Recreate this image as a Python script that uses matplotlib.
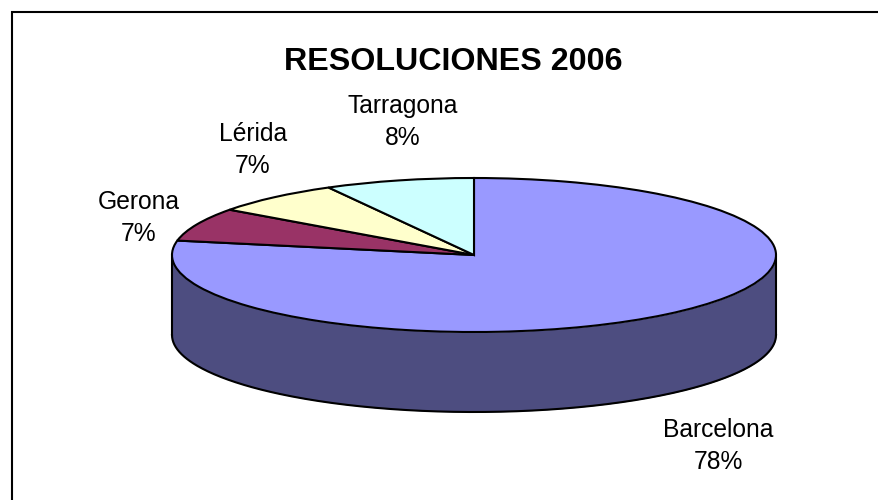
import matplotlib
matplotlib.use('Agg')
import matplotlib.pyplot as plt
import numpy as np

labels = ['Barcelona', 'Gerona', 'Lérida', 'Tarragona']
values = [78, 7, 7, 8]
colors = ['#9999ff', '#993366', '#ffffcc', '#ccffff']
side_color = '#4d4d80'

W, H = 879, 500
cx, cy = 474, 255
rx, ry = 302, 77
depth = 80 / ry

plt.rcParams['font.family'] = ['Liberation Sans', 'DejaVu Sans']

fig = plt.figure(figsize=(W / 100, H / 100), dpi=100)
ax = fig.add_axes([0, 0, 1, 1])

# pie in the squashed top face, side wall drawn below it
ax.pie(values, colors=colors, startangle=90, counterclock=False, radius=1,
       wedgeprops={'edgecolor': 'black', 'linewidth': 1.5, 'zorder': 3})
ax.set_aspect('auto')
ax.set_xlim(-cx / rx, (W - cx) / rx)
ax.set_ylim((cy - H) / ry, cy / ry)
ax.set_xticks([])
ax.set_yticks([])
ax.set_frame_on(False)

t = np.linspace(np.pi, 2 * np.pi, 300)
ax.fill_between(np.cos(t), np.sin(t) - depth, np.sin(t), color=side_color, lw=0, zorder=1)
ax.plot(np.cos(t), np.sin(t) - depth, color='black', lw=1.5, zorder=2)
ax.plot([-1, -1], [0, -depth], color='black', lw=1.5, zorder=2)
ax.plot([1, 1], [0, -depth], color='black', lw=1.5, zorder=2)

# border only on the top and left, the rest is cropped away
fig.add_artist(plt.Line2D([12 / W, 12 / W, 1], [0, 1 - 12 / H, 1 - 12 / H], color='black',
                          lw=1.5, solid_joinstyle='miter'))

fig.text(453 / W, 1 - 62 / H, 'RESOLUCIONES 2006', fontsize=23.2, fontweight='bold',
         ha='center', va='center')

label_pos = [(718, 446), (139, 218), (253, 150), (403, 122)]
for name, v, (px, py) in zip(labels, values, label_pos):
    fig.text(px / W, 1 - py / H, f'{name}\n{v}%', fontsize=17.7, ha='center', va='center',
             linespacing=1.42)

fig.savefig('out.png', dpi=100)
